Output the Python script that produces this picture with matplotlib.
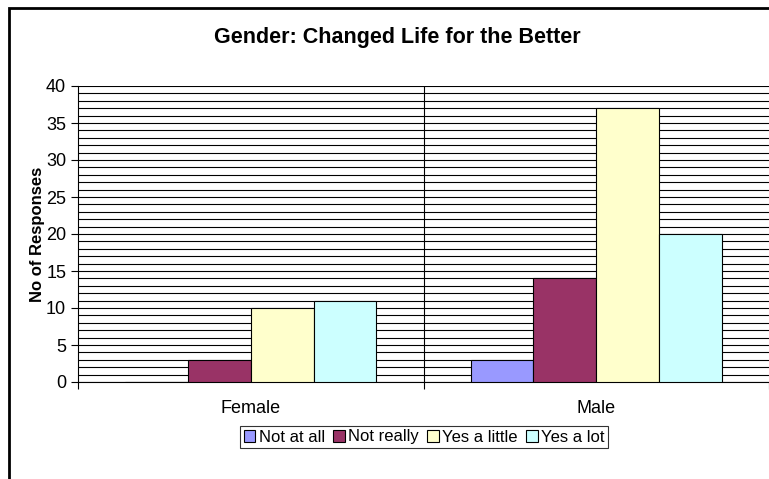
import numpy as np
import matplotlib.pyplot as plt
from matplotlib.patches import Rectangle
from matplotlib.ticker import MultipleLocator, FixedLocator, NullFormatter

plt.rcParams['font.family'] = ['Liberation Sans', 'DejaVu Sans']

genders = ["Female", "Male"]
responses = ["Not at all", "Not really", "Yes a little", "Yes a lot"]
not_at_all = [0, 3]
not_really = [3, 14]
yes_a_little = [10, 37]
yes_a_lot = [11, 20]
series = [not_at_all, not_really, yes_a_little, yes_a_lot]
colors = ["#9999FF", "#993366", "#FFFFCC", "#CCFFFF"]

fig = plt.figure(figsize=(7.69, 4.79), dpi=100)
ax = fig.add_axes([78 / 769, 1 - 382 / 479, 1 - 78 / 769, (382 - 86) / 479])

# chart border, runs off the right and bottom edge
fig.patches.append(Rectangle((9 / 769, -0.05), 1.2, 1 - 8 / 479 + 0.05,
                             transform=fig.transFigure, fill=False,
                             edgecolor="black", linewidth=2))

x = np.arange(len(genders))
gap = 1.5
w = 1 / (len(responses) + gap)
for i, (vals, c, lab) in enumerate(zip(series, colors, responses)):
    ax.bar(x + (i - 1.5) * w, vals, width=w, color=c, edgecolor="black",
           linewidth=0.8, label=lab, zorder=3)

ax.set_xlim(-0.5, 1.5)
ax.set_ylim(0, 40)
ax.yaxis.set_major_locator(MultipleLocator(5))
ax.yaxis.set_minor_locator(MultipleLocator(1))
ax.yaxis.set_minor_formatter(NullFormatter())
ax.grid(axis="y", which="both", color="black", linewidth=0.8, zorder=0)

# category labels in the middle, tick marks on the boundaries
ax.set_xticks(x)
ax.set_xticklabels(genders, fontsize=13)
ax.tick_params(axis="x", which="major", length=0, pad=13)
ax.xaxis.set_minor_locator(FixedLocator([-0.5, 0.5, 1.5]))
ax.tick_params(axis="x", which="minor", length=5, width=0.8)
ax.tick_params(axis="y", which="major", length=5, width=0.8, labelsize=13)
ax.tick_params(axis="y", which="minor", length=0)
ax.axvline(0.5, color="black", linewidth=0.8, zorder=1)

for s in ["top", "right"]:
    ax.spines[s].set_visible(False)
ax.spines["left"].set_linewidth(0.8)
ax.spines["bottom"].set_linewidth(0.8)

ax.set_ylabel("No of Responses", fontsize=12, fontweight="bold", labelpad=1)
fig.text(397 / 769, 1 - 37 / 479, "Gender: Changed Life for the Better",
         fontsize=15.5, fontweight="bold", ha="center", va="center")

leg = fig.legend(loc="center", bbox_to_anchor=(424 / 769, 1 - 437 / 479),
                 ncol=4, fontsize=12, frameon=True, fancybox=False,
                 handlelength=0.7, handleheight=0.7, handletextpad=0.2,
                 columnspacing=0.5, borderpad=0.2, borderaxespad=0)
leg.get_frame().set_edgecolor("black")
leg.get_frame().set_linewidth(0.8)

fig.savefig("out.png", dpi=100)
